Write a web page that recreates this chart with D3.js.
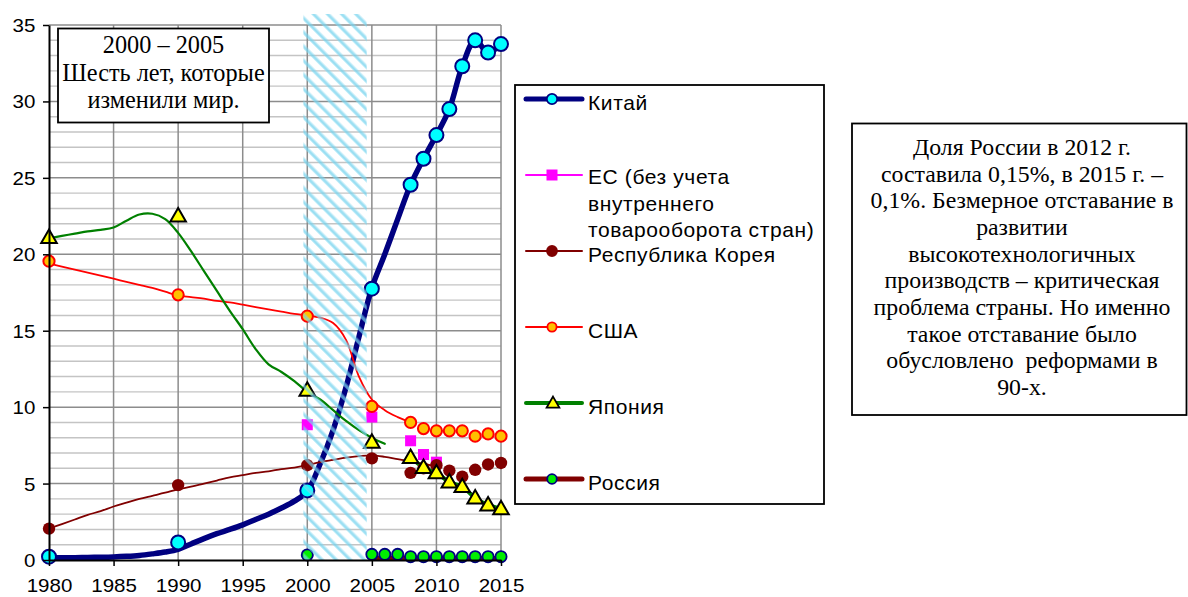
<!DOCTYPE html>
<html>
<head>
<meta charset="utf-8">
<script src="https://cdn.jsdelivr.net/npm/d3@7"></script>
<style>
  html, body { margin: 0; padding: 0; background: #fff; }
  svg { display: block; }
</style>
</head>
<body>
<svg id="chart" width="1188" height="597"></svg>
<script>
// Share of world high-tech exports, %, by country

// Smoothed trend lines (one value per year, starting at the given year)
const chinaLineStart = 1980;
const chinaLine = [0.15, 0.15, 0.15, 0.17, 0.18, 0.2, 0.24, 0.3, 0.4, 0.52, 0.7,
  1.05, 1.4, 1.72, 2.0, 2.3, 2.65, 3.0, 3.4, 3.85, 4.5,
  6.3, 8.5, 11.3, 14.6, 17.8, 20.0, 22.3, 24.55, 26.25, 27.8, 29.5, 32.3, 34.0, 33.2, 33.75];

const koreaLineStart = 1980;
const koreaLine = [2.05, 2.35, 2.65, 2.95, 3.2, 3.5, 3.75, 4.0, 4.2, 4.4, 4.62,
  4.8, 5.0, 5.2, 5.4, 5.55, 5.7, 5.8, 5.95, 6.05, 6.2,
  6.4, 6.55, 6.7, 6.8, 6.85, 6.75, 6.6, 6.45, 6.3, 6.1];

const usaLineStart = 1980;
const usaLine = [19.4, 19.2, 19.0, 18.8, 18.6, 18.4, 18.2, 18.0, 17.8, 17.55, 17.3,
  17.2, 17.1, 16.95, 16.85, 16.7, 16.55, 16.4, 16.25, 16.1, 16.0,
  15.85, 15.5, 14.4, 12.0, 10.5, 9.8, 9.35, 9.0];

const japanLineStart = 1980;
const japanLine = [21.05, 21.2, 21.35, 21.5, 21.6, 21.75, 22.2, 22.6, 22.65, 22.3, 21.4,
  20.2, 18.9, 17.6, 16.3, 15.1, 13.8, 12.8, 12.3, 11.7, 11.0,
  10.5, 9.8, 9.1, 8.5, 8.0, 7.6];

const japanRecentStart = 2008;
const japanRecent = [6.7, 6.05, 5.7, 5.1, 4.8, 4.05, 3.6, 3.35];

const russiaLineStart = 2005;
const russiaLine = [0.15, 0.15, 0.15, 0.15, 0.15, 0.15, 0.15, 0.15, 0.13, 0.12, 0.1];

// Reported points
const chinaYears = [1980, 1990, 2000, 2005, 2008, 2009, 2010, 2011, 2012, 2013, 2014, 2015];
const chinaValues = [0.22, 1.15, 4.55, 17.75, 24.55, 26.25, 27.8, 29.5, 32.3, 34.0, 33.2, 33.75];

const euYears = [2000, 2005, 2008, 2009, 2010];
const euValues = [8.85, 9.35, 7.8, 6.9, 6.4];

const koreaYears = [1980, 1990, 2000, 2005, 2008, 2009, 2010, 2011, 2012, 2013, 2014, 2015];
const koreaValues = [2.05, 4.9, 6.2, 6.65, 5.7, 6.0, 6.2, 5.85, 5.45, 5.9, 6.25, 6.35];

const usaYears = [1980, 1990, 2000, 2005, 2008, 2009, 2010, 2011, 2012, 2013, 2014, 2015];
const usaValues = [19.55, 17.35, 15.95, 10.05, 9.0, 8.6, 8.45, 8.45, 8.45, 8.1, 8.25, 8.1];

const japanYears = [1980, 1990, 2000, 2005, 2008, 2009, 2010, 2011, 2012, 2013, 2014, 2015];
const japanValues = [21.1, 22.5, 11.1, 7.7, 6.7, 6.05, 5.7, 5.1, 4.8, 4.05, 3.6, 3.35];

const russiaYears = [2000, 2005, 2006, 2007, 2008, 2009, 2010, 2011, 2012, 2013, 2014, 2015];
const russiaValues = [0.33, 0.37, 0.37, 0.37, 0.22, 0.22, 0.22, 0.22, 0.22, 0.22, 0.22, 0.22];

// Axes
const xTicks = [1980, 1985, 1990, 1995, 2000, 2005, 2010, 2015];
const yTicks = [0, 5, 10, 15, 20, 25, 30, 35];
const highlightYears = [1999.7, 2004.6];

// Legend and notes
const legendLabels = [
  ["Китай"],
  ["ЕС (без учета", "внутреннего", "товарооборота стран)"],
  ["Республика Корея"],
  ["США"],
  ["Япония"],
  ["Россия"]
];
const headline = ["2000 – 2005", "Шесть лет, которые", "изменили мир."];
const note = [
  "Доля России в 2012 г.",
  "составила 0,15%, в 2015 г. –",
  "0,1%. Безмерное отставание в",
  "развитии",
  "высокотехнологичных",
  "производств – критическая",
  "проблема страны. Но именно",
  "такое отставание было",
  "обусловлено  реформами в",
  "90-х."
];

const svg = d3.select("#chart");
const plot = { left: 49, right: 501, top: 25, bottom: 560 };

const x = d3.scaleLinear().domain([1980, 2015]).range([plot.left, plot.right]);
const y = d3.scaleLinear().domain([0, 35]).range([plot.bottom, plot.top]);

const seq = (start, vals) => vals.map((v, i) => [start + i, v]);
const zip = (xs, vs) => xs.map((yr, i) => [yr, vs[i]]);

// Hatch pattern for the highlighted years
const defs = svg.append("defs");
const pat = defs.append("pattern")
  .attr("id", "hatch")
  .attr("patternUnits", "userSpaceOnUse")
  .attr("width", 10).attr("height", 10)
  .attr("patternTransform", "rotate(-45)");
pat.append("rect").attr("x", 0).attr("y", 0).attr("width", 3.6).attr("height", 10)
  .attr("fill", "#86daf2").attr("opacity", 0.6);
pat.append("rect").attr("x", 0.9).attr("y", 0).attr("width", 1.6).attr("height", 10)
  .attr("fill", "#5cc8ea").attr("opacity", 0.35);

// Grid
const grid = svg.append("g");
grid.selectAll("line.minor")
  .data(d3.range(1, 35).filter(v => v % 5 !== 0))
  .join("line")
  .attr("x1", plot.left).attr("x2", plot.right)
  .attr("y1", d => y(d)).attr("y2", d => y(d))
  .attr("stroke", "#c4c4c4").attr("stroke-width", 1.4);
grid.selectAll("line.major")
  .data(yTicks.filter(v => v > 0))
  .join("line")
  .attr("x1", plot.left).attr("x2", plot.right)
  .attr("y1", d => y(d)).attr("y2", d => y(d))
  .attr("stroke", "#8c8c8c").attr("stroke-width", 1.5);
grid.selectAll("line.vert")
  .data(xTicks.filter(v => v > 1980))
  .join("line")
  .attr("x1", d => x(d)).attr("x2", d => x(d))
  .attr("y1", plot.top).attr("y2", plot.bottom)
  .attr("stroke", "#8c8c8c").attr("stroke-width", 1.5);

// Lines
const line = d3.line().x(d => x(d[0])).y(d => y(d[1])).curve(d3.curveCatmullRom.alpha(0.5));
const lines = svg.append("g").attr("fill", "none").attr("stroke-linejoin", "round").attr("stroke-linecap", "round");
lines.append("path").datum(seq(chinaLineStart, chinaLine)).attr("d", line)
  .attr("stroke", "#000080").attr("stroke-width", 5.5);
lines.append("path").datum(seq(koreaLineStart, koreaLine)).attr("d", line)
  .attr("stroke", "#800000").attr("stroke-width", 1.8);
lines.append("path").datum(seq(usaLineStart, usaLine)).attr("d", line)
  .attr("stroke", "#ff0000").attr("stroke-width", 1.8);
lines.append("path").datum(seq(japanLineStart, japanLine)).attr("d", line)
  .attr("stroke", "#008000").attr("stroke-width", 2.2);
lines.append("path").datum(seq(japanRecentStart, japanRecent)).attr("d", line)
  .attr("stroke", "#008000").attr("stroke-width", 4);
lines.append("path").datum(seq(russiaLineStart, russiaLine)).attr("d", line)
  .attr("stroke", "#800000").attr("stroke-width", 4.5);

// Markers
function circles(data, r, fill, stroke, sw) {
  svg.append("g").selectAll("circle").data(data).join("circle")
    .attr("cx", d => x(d[0])).attr("cy", d => y(d[1])).attr("r", r)
    .attr("fill", fill).attr("stroke", stroke).attr("stroke-width", sw);
}
circles(zip(chinaYears, chinaValues), 7, "#00ffff", "#000080", 2);
svg.append("g").selectAll("rect").data(zip(euYears, euValues)).join("rect")
  .attr("x", d => x(d[0]) - 5.5).attr("y", d => y(d[1]) - 5.5)
  .attr("width", 11).attr("height", 11).attr("fill", "#ff00ff");
circles(zip(koreaYears, koreaValues), 6.2, "#800000", "#800000", 0);
circles(zip(usaYears, usaValues), 5.6, "#ffc000", "#ff0000", 2);
const tri = d3.symbol().type(d3.symbolTriangle).size(105);
svg.append("g").selectAll("path").data(zip(japanYears, japanValues)).join("path")
  .attr("d", tri)
  .attr("transform", d => `translate(${x(d[0])},${y(d[1]) + 1})`)
  .attr("fill", "#ffff00").attr("stroke", "#000").attr("stroke-width", 2).attr("stroke-linejoin", "miter");
circles(zip(russiaYears, russiaValues), 5.6, "#00ee00", "#000080", 1.8);

// Highlighted period
svg.append("rect")
  .attr("x", x(highlightYears[0])).attr("width", x(highlightYears[1]) - x(highlightYears[0]))
  .attr("y", plot.top - 11).attr("height", plot.bottom - plot.top + 11)
  .attr("fill", "url(#hatch)");

// Axes
const axisFont = "'Liberation Sans', Arial, sans-serif";
const yAxis = svg.append("g").attr("transform", `translate(${plot.left},0)`)
  .call(d3.axisLeft(y).tickValues(yTicks).tickFormat(d3.format("d")).tickSize(6).tickPadding(6).tickSizeOuter(0));
const xAxis = svg.append("g").attr("transform", `translate(0,${plot.bottom})`)
  .call(d3.axisBottom(x).tickValues(xTicks).tickFormat(d3.format("d")).tickSize(6).tickPadding(4).tickSizeOuter(0));
[yAxis, xAxis].forEach(a => {
  a.select(".domain").attr("stroke", "#000").attr("stroke-width", 2);
  a.selectAll(".tick line").attr("stroke", "#000").attr("stroke-width", 1.5);
  a.selectAll(".tick text").attr("fill", "#000").attr("font-family", axisFont).attr("font-size", 18)
    .attr("transform", "scale(1.14,1)");
});
yAxis.selectAll(".tick text").attr("dy", "0.36em");
xAxis.selectAll(".tick text").attr("dy", "1.22em");

// Legend
const legend = svg.append("g");
legend.append("rect").attr("x", 515).attr("y", 85).attr("width", 309).attr("height", 419)
  .attr("fill", "#fff").attr("stroke", "#000").attr("stroke-width", 1.8);
const rowY = i => 99 + i * 76;
const swatch = [
  { stroke: "#000080", sw: 5, mark: "circle", fill: "#00ffff", ms: "#000080", r: 5.2 },
  { stroke: "#ff00ff", sw: 2, mark: "square", fill: "#ff00ff" },
  { stroke: "#800000", sw: 2, mark: "circle", fill: "#800000", ms: "#800000", r: 5 },
  { stroke: "#ff0000", sw: 2, mark: "circle", fill: "#ffc000", ms: "#ff0000", r: 4.6 },
  { stroke: "#008000", sw: 4, mark: "triangle", fill: "#ffff00" },
  { stroke: "#800000", sw: 5, mark: "circle", fill: "#00ee00", ms: "#000080", r: 4.8 }
];
legendLabels.forEach((lines, i) => {
  const cy = rowY(i), s = swatch[i];
  legend.append("line").attr("x1", 526).attr("x2", 582).attr("y1", cy).attr("y2", cy)
    .attr("stroke", s.stroke).attr("stroke-width", s.sw).attr("stroke-linecap", "round");
  if (s.mark === "circle") {
    legend.append("circle").attr("cx", 552).attr("cy", cy).attr("r", s.r)
      .attr("fill", s.fill).attr("stroke", s.ms).attr("stroke-width", 1.8);
  } else if (s.mark === "square") {
    legend.append("rect").attr("x", 546.5).attr("y", cy - 5.5).attr("width", 11).attr("height", 11).attr("fill", s.fill);
  } else {
    legend.append("path").attr("d", d3.symbol().type(d3.symbolTriangle).size(70))
      .attr("transform", `translate(553,${cy + 1})`)
      .attr("fill", s.fill).attr("stroke", "#000").attr("stroke-width", 1.8);
  }
  const multi = lines.length > 1;
  const t = legend.append("text").attr("x", 588).attr("y", cy + (multi ? 9 : 11))
    .attr("font-family", axisFont).attr("font-size", 21).attr("letter-spacing", 0.6).attr("fill", "#000");
  lines.forEach((ln, j) => t.append("tspan").attr("x", 588).attr("dy", j === 0 ? 0 : 26.5).text(ln));
});

// Headline box
const serif = "'Liberation Serif', 'Times New Roman', serif";
svg.append("rect").attr("x", 58).attr("y", 28.5).attr("width", 211).attr("height", 94)
  .attr("fill", "#fff").attr("stroke", "#000").attr("stroke-width", 1.8);
const ht = svg.append("text").attr("text-anchor", "middle")
  .attr("font-family", serif).attr("font-size", 24.3).attr("fill", "#000");
headline.forEach((ln, j) => ht.append("tspan").attr("x", 163.5).attr("y", 52.7 + j * 27.8).text(ln));

// Note box
svg.append("rect").attr("x", 852).attr("y", 123.5).attr("width", 334.5).attr("height", 291.5)
  .attr("fill", "#fff").attr("stroke", "#000").attr("stroke-width", 1.8);
const nt = svg.append("text").attr("text-anchor", "middle")
  .attr("font-family", serif).attr("font-size", 23.8).attr("fill", "#000")
  .attr("xml:space", "preserve");
note.forEach((ln, j) => nt.append("tspan").attr("x", 1022).attr("y", 155 + j * 26.67).text(ln));
</script>
</body>
</html>
